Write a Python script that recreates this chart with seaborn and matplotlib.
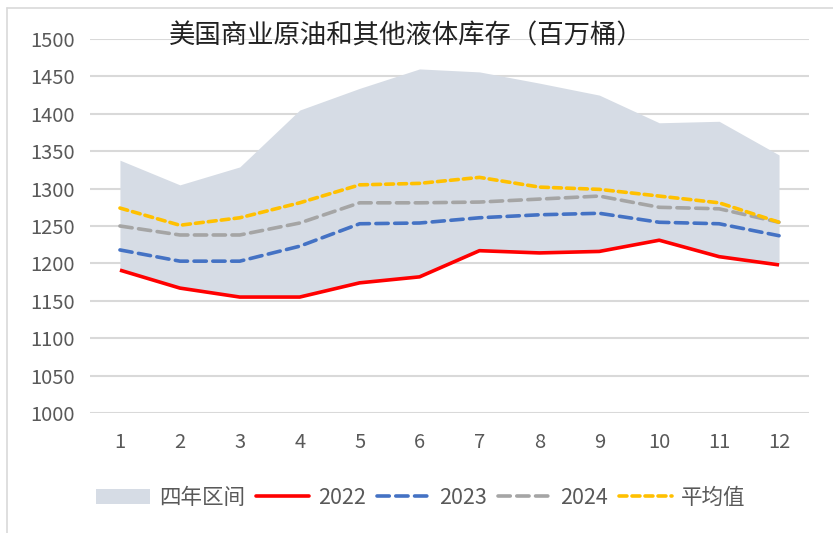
import numpy as np
import pandas as pd
import seaborn as sns
import matplotlib.pyplot as plt
from matplotlib.patches import Patch
from matplotlib.lines import Line2D

months = list(range(1, 13))

band_high = [1338, 1305, 1329, 1405, 1434, 1460, 1456, 1441, 1425, 1388, 1390, 1345]
band_low = [1191, 1167, 1155, 1155, 1174, 1182, 1217, 1214, 1216, 1231, 1209, 1198]

y2022 = [1191, 1167, 1155, 1155, 1174, 1182, 1217, 1214, 1216, 1231, 1209, 1198]
y2023 = [1218, 1203, 1203, 1223, 1253, 1254, 1261, 1265, 1267, 1255, 1253, 1237]
y2024 = [1250, 1238, 1238, 1254, 1281, 1281, 1282, 1286, 1290, 1275, 1273, 1255]
y_avg = [1274, 1251, 1261, 1281, 1305, 1307, 1315, 1302, 1299, 1290, 1281, 1255]

series_names = ["2022", "2023", "2024", "平均值"]
series_colors = ["#FF0000", "#4472C4", "#A5A5A5", "#FFC000"]
series_dashes = [None, (3.4, 1.8), (3.4, 1.8), (2.2, 1.4)]

title = "美国商业原油和其他液体库存（百万桶）"
band_name = "四年区间"
band_color = "#D6DCE5"
text_color = "#595959"

sns.set_theme(style="white")
plt.rcParams['font.family'] = ['Noto Sans CJK SC', 'DejaVu Sans']

df = pd.DataFrame({"month": months, "2022": y2022, "2023": y2023,
                   "2024": y2024, "平均值": y_avg})
long_df = df.melt(id_vars="month", var_name="series", value_name="value")

fig = plt.figure(figsize=(8.33, 5.33), dpi=100)
ax = fig.add_axes([90 / 833, 1 - 413 / 533, 719 / 833, 374 / 533])

# four-year range band
ax.fill_between(months, band_low, band_high, color=band_color, lw=0, zorder=1)

for name, color, dash in zip(series_names, series_colors, series_dashes):
    sub = long_df[long_df["series"] == name]
    sns.lineplot(data=sub, x="month", y="value", ax=ax, color=color,
                 lw=2.6, zorder=3, legend=False)
    l = ax.lines[-1]
    if dash is not None:
        l.set_linestyle((0, dash))
        l.set_dash_capstyle("round")
    else:
        l.set_solid_capstyle("butt")

ax.set_xlim(0.5, 12.5)
ax.set_ylim(1000, 1500)
ax.set_yticks(range(1000, 1501, 50))
ax.set_xticks(months)
ax.set_xlabel("")
ax.set_ylabel("")
ax.yaxis.grid(True, color="#D9D9D9", lw=1.5, zorder=0)
ax.set_axisbelow(True)
for s in ax.spines.values():
    s.set_visible(False)
ax.tick_params(axis="y", length=0, pad=11, labelsize=14.5, labelcolor=text_color)
ax.tick_params(axis="x", length=0, pad=14, labelsize=14.5, labelcolor=text_color)

fig.text(406 / 833, 1 - 36 / 533, title, ha="center", va="center",
         fontsize=19, color="#222222")

handles = [Patch(facecolor=band_color, edgecolor="none", label=band_name)]
for name, color, dash in zip(series_names, series_colors, series_dashes):
    if dash is None:
        h = Line2D([], [], color=color, lw=2.6, label=name)
    else:
        h = Line2D([], [], color=color, lw=2.6, ls=(0, dash), dash_capstyle="round", label=name)
    handles.append(h)

fig.legend(handles=handles, loc="center", bbox_to_anchor=(421 / 833, 1 - 498 / 533),
           ncol=5, frameon=False, fontsize=15.5, labelcolor=text_color,
           handlelength=2.5, handletextpad=0.4, columnspacing=0.5)

# chart border (only left/top visible in the reference crop)
fig.add_artist(Line2D([7 / 833, 7 / 833], [0, 1 - 8 / 533], color="#D9D9D9", lw=1.2,
                      transform=fig.transFigure))
fig.add_artist(Line2D([7 / 833, 1], [1 - 8 / 533, 1 - 8 / 533], color="#D9D9D9", lw=1.2,
                      transform=fig.transFigure))

fig.savefig("out.png", dpi=100)
